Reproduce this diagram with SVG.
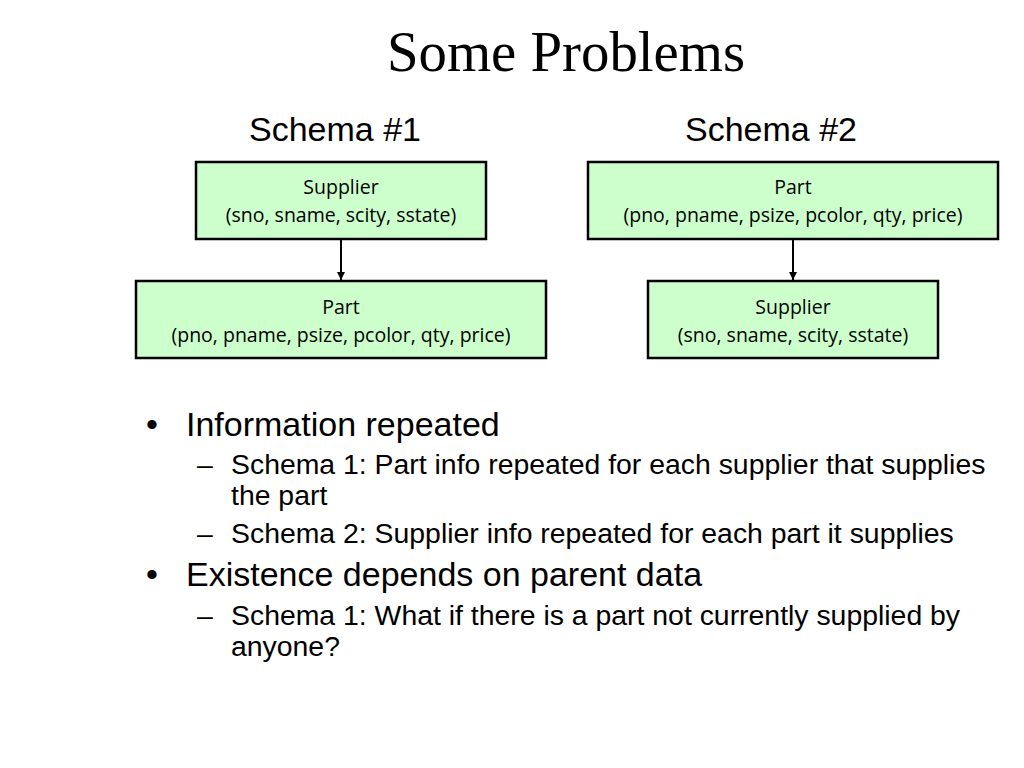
<svg xmlns="http://www.w3.org/2000/svg" width="1024" height="768" viewBox="0 0 1024 768">
<defs>
<style>
.box{fill:#ccffcc;stroke:#000;stroke-width:2.5}
.bt{font-family:"Open Sans","Noto Sans",sans-serif;font-size:19.5px;fill:#000;text-anchor:middle}
.h{font-family:"Liberation Sans",Arial,sans-serif;font-size:34px;fill:#000;text-anchor:middle}
.l1{font-family:"Liberation Sans",Arial,sans-serif;font-size:34px;fill:#000}
.l2{font-family:"Liberation Sans",Arial,sans-serif;font-size:28.4px;fill:#000}
.conn{stroke:#000;stroke-width:2;fill:none;marker-end:url(#arr)}
</style>
<marker id="arr" markerWidth="10" markerHeight="10" refX="8" refY="5" orient="auto" markerUnits="userSpaceOnUse">
<path d="M0,1 L8,5 L0,9 Z" fill="#000"/>
</marker>
</defs>
<rect width="1024" height="768" fill="#fff"/>
<text x="566" y="71" font-family="'Liberation Serif','Times New Roman',serif" font-size="56.8" text-anchor="middle">Some Problems</text>
<text class="h" x="335" y="141">Schema #1</text>
<text class="h" x="771" y="141">Schema #2</text>
<g id="s1-supplier">
<rect class="box" x="196" y="162" width="290" height="77"/>
<text class="bt" x="341" y="194">Supplier</text>
<text class="bt" x="341" y="222">(sno, sname, scity, sstate)</text>
</g>
<g id="s1-part">
<rect class="box" x="136" y="281" width="410" height="77"/>
<text class="bt" x="341" y="314">Part</text>
<text class="bt" x="341" y="342">(pno, pname, psize, pcolor, qty, price)</text>
</g>
<g id="s2-part">
<rect class="box" x="588" y="162" width="410" height="77"/>
<text class="bt" x="793" y="194">Part</text>
<text class="bt" x="793" y="222">(pno, pname, psize, pcolor, qty, price)</text>
</g>
<g id="s2-supplier">
<rect class="box" x="648" y="281" width="290" height="77"/>
<text class="bt" x="793" y="314">Supplier</text>
<text class="bt" x="793" y="342">(sno, sname, scity, sstate)</text>
</g>
<g id="connectors">
<line class="conn" x1="341" y1="240" x2="341" y2="280"/>
<line class="conn" x1="793" y1="240" x2="793" y2="280"/>
</g>
<g id="bullets">
<text class="l1" x="146" y="436">•</text>
<text class="l1" x="186" y="436">Information repeated</text>
<text class="l2" x="197" y="474">–</text>
<text class="l2" x="231" y="474">Schema 1: Part info repeated for each supplier that supplies</text>
<text class="l2" x="231" y="505">the part</text>
<text class="l2" x="197" y="543">–</text>
<text class="l2" x="231" y="543">Schema 2: Supplier info repeated for each part it supplies</text>
<text class="l1" x="146" y="586">•</text>
<text class="l1" x="186" y="586">Existence depends on parent data</text>
<text class="l2" x="197" y="625">–</text>
<text class="l2" x="231" y="625">Schema 1: What if there is a part not currently supplied by</text>
<text class="l2" x="231" y="656">anyone?</text>
</g>
</svg>
